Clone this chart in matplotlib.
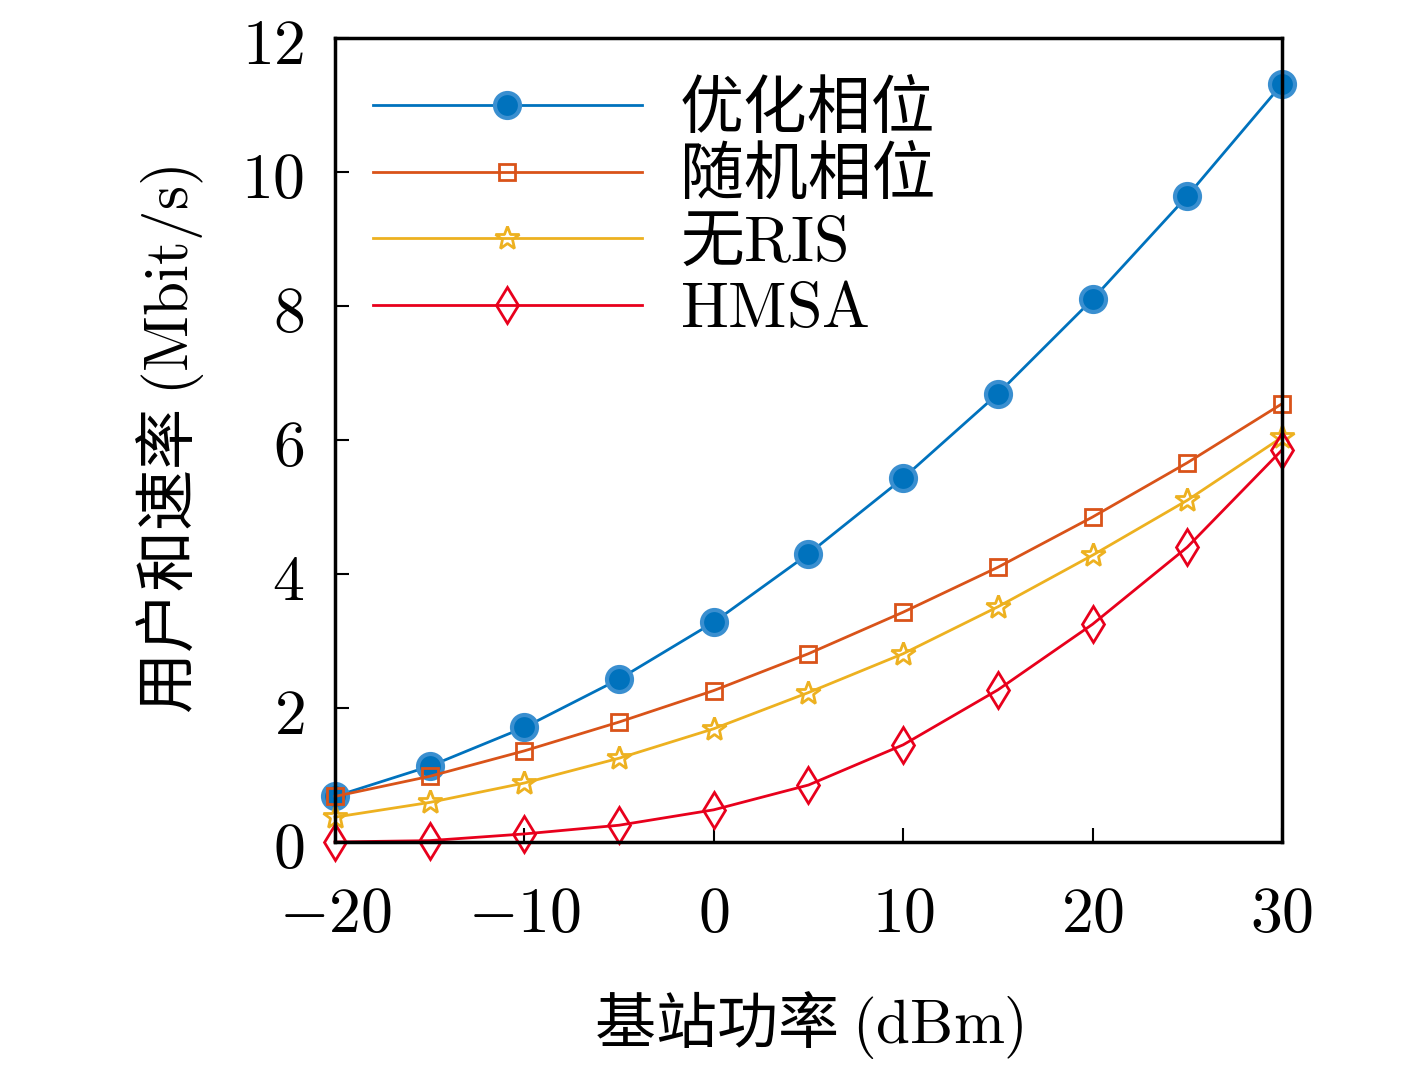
import matplotlib
matplotlib.use("Agg")
import matplotlib.pyplot as plt

plt.rcParams['font.family'] = ['Noto Sans CJK SC', 'DejaVu Sans']
plt.rcParams['mathtext.fontset'] = 'cm'

power = [-20, -15, -10, -5, 0, 5, 10, 15, 20, 25, 30]
opt = [0.68, 1.13, 1.71, 2.43, 3.28, 4.3, 5.43, 6.69, 8.1, 9.64, 11.31]
rnd = [0.68, 0.98, 1.36, 1.79, 2.26, 2.81, 3.43, 4.1, 4.85, 5.66, 6.54]
noris = [0.37, 0.59, 0.88, 1.25, 1.69, 2.23, 2.81, 3.51, 4.28, 5.1, 6.04]
hmsa = [0.0, 0.02, 0.12, 0.25, 0.48, 0.85, 1.45, 2.27, 3.25, 4.4, 5.85]
names = ['优化相位', '随机相位', '无' + r'$\mathrm{RIS}$', r'$\mathrm{HMSA}$']

fig = plt.figure(figsize=(14.17, 10.67), dpi=100)
ax = fig.add_axes([0.2364, 0.2109, 0.6683, 0.7535])
ax.plot(power, opt, '-o', color='#0072BD', lw=2, ms=18, mfc='#0072BD', mec='#3a8fd0', mew=3, label=names[0], clip_on=False)
ax.plot(power, rnd, '-s', color='#D95319', lw=2, ms=11, mfc='none', mew=2, label=names[1], clip_on=False)
ax.plot(power, noris, '-*', color='#EDB120', lw=2, ms=18, mfc='none', mew=2, label=names[2], clip_on=False)
ax.plot(power, hmsa, '-d', color='#E8001C', lw=2, ms=18, mfc='none', mew=2, label=names[3], clip_on=False)
ax.set_xlim(-20, 30)
ax.set_ylim(0, 12)
ax.set_xticks([-20, -10, 0, 10, 20, 30])
ax.set_xticklabels([r'$-20$', r'$-10$', r'$0$', r'$10$', r'$20$', r'$30$'])
ax.set_yticks([0, 2, 4, 6, 8, 10, 12])
ax.set_yticklabels([r'$%d$' % v for v in [0, 2, 4, 6, 8, 10, 12]])
ax.tick_params(axis='x', direction='in', labelsize=46, length=10, width=1.5, pad=28)
ax.tick_params(axis='y', direction='in', labelsize=46, length=10, width=1.5, pad=22)
for s in ax.spines.values():
    s.set_linewidth(2.5)
ax.set_xlabel('基站功率 ' + r'$\mathrm{(dBm)}$', fontsize=44, labelpad=30)
ax.set_ylabel('用户和速率 ' + r'$\mathrm{(Mbit/s)}$', fontsize=44, labelpad=25)
ax.legend(loc='upper left', frameon=False, fontsize=46, handlelength=4.2, borderaxespad=0.2,
          labelspacing=0.0, handletextpad=0.6)
fig.savefig('out.png', dpi=100)
